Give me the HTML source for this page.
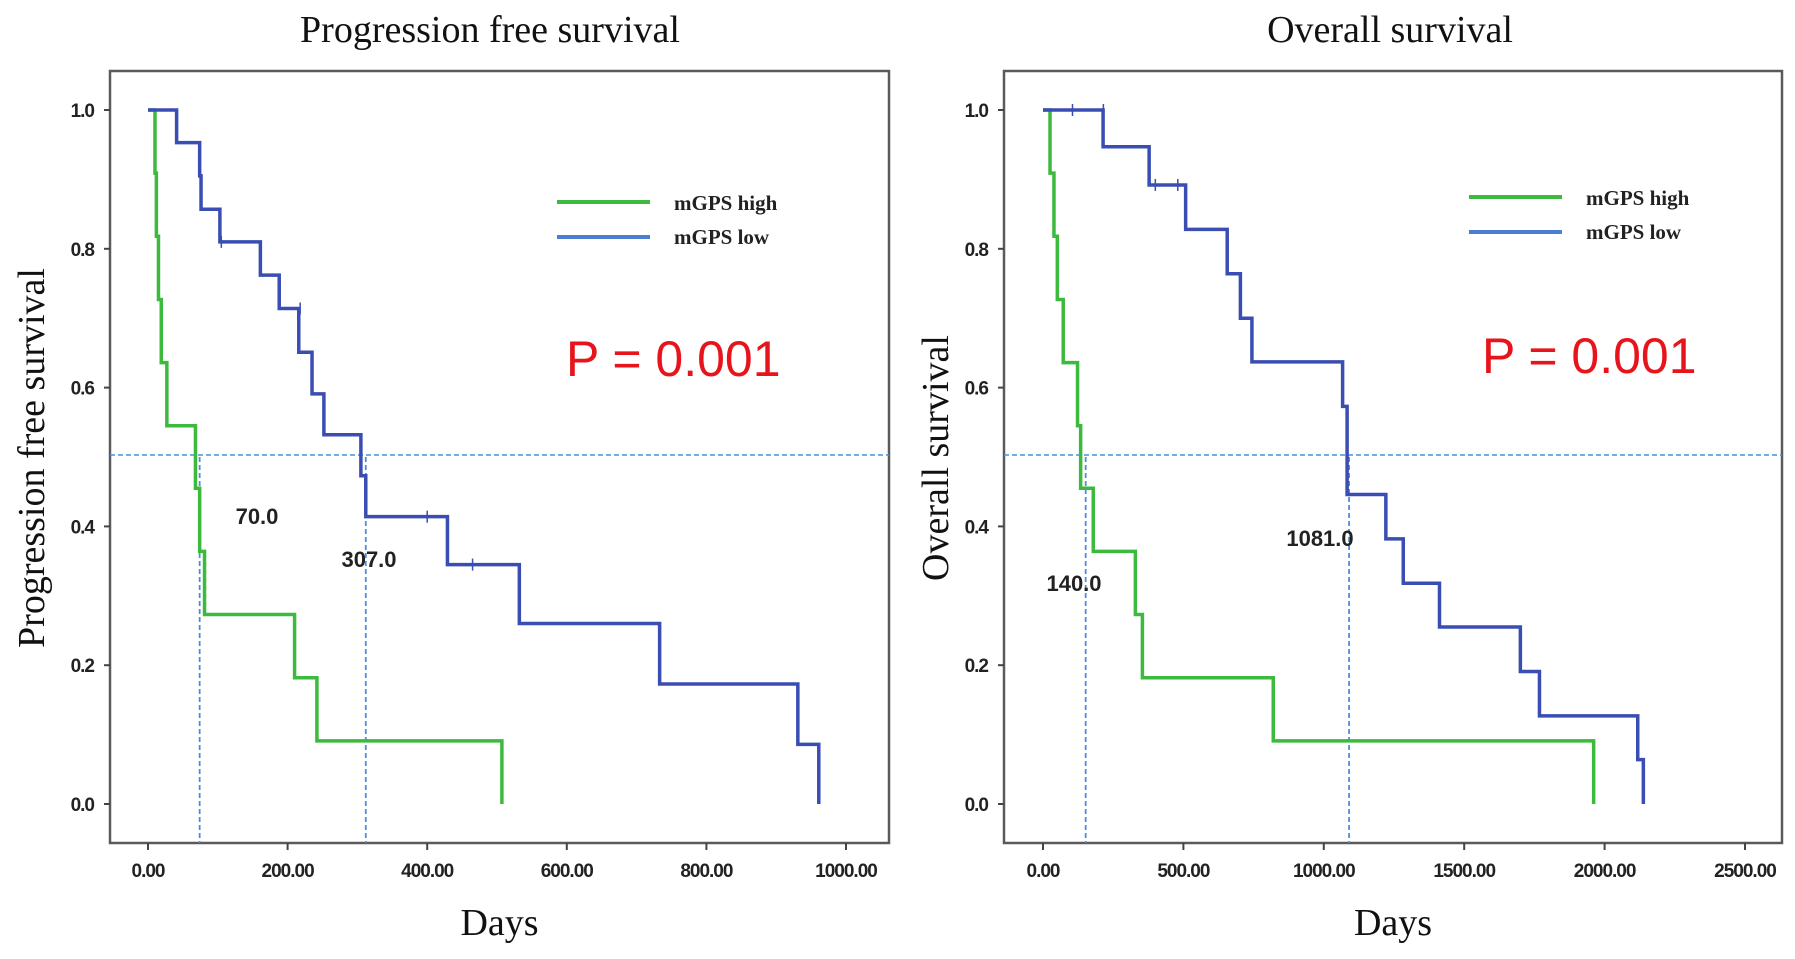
<!DOCTYPE html>
<html><head><meta charset="utf-8"><style>
html,body{margin:0;padding:0;background:#fff;}
svg{display:block;}
.tk{font-family:"Liberation Sans",sans-serif;font-weight:bold;font-size:19px;fill:#222;letter-spacing:-1px;}
.ttl{font-family:"Liberation Serif",serif;font-size:38px;fill:#111;}
.lg{font-family:"Liberation Serif",serif;font-weight:bold;font-size:21px;fill:#222;}
.md{font-family:"Liberation Sans",sans-serif;font-weight:bold;font-size:22px;fill:#222;}
.pv{font-family:"Liberation Sans",sans-serif;font-size:50px;fill:#e8141b;}
</style></head><body>
<svg id="chart" width="1795" height="959" viewBox="0 0 1795 959" xmlns="http://www.w3.org/2000/svg"></svg>
<script>
// ---- Panel 1: Progression free survival ----
const pfsHighDays = [0, 10, 12, 15, 19, 27, 68, 74, 81, 210, 242, 507];
const pfsHighSurv = [1.0, 0.909, 0.818, 0.727, 0.636, 0.545, 0.455, 0.364, 0.273, 0.182, 0.091, 0.0];
const pfsLowDays = [0, 41, 74, 76, 103, 161, 188, 216, 235, 252, 305, 312, 429, 532, 733, 931, 961];
const pfsLowSurv = [1.0, 0.953, 0.905, 0.857, 0.81, 0.762, 0.714, 0.651, 0.591, 0.532, 0.473, 0.414, 0.345, 0.26, 0.173, 0.086, 0.0];
const pfsLowCensorDays = [75, 105, 218, 400, 465];
const pfsLowCensorSurv = [0.905, 0.81, 0.714, 0.414, 0.345];
const pfsMedians = [74, 312];
const pfsMedianLabels = ["70.0", "307.0"];
const pfsXTicks = [0, 200, 400, 600, 800, 1000];
const pfsXTickLabels = ["0.00", "200.00", "400.00", "600.00", "800.00", "1000.00"];
// ---- Panel 2: Overall survival ----
const osHighDays = [0, 25, 39, 51, 72, 123, 134, 179, 329, 354, 820, 1961];
const osHighSurv = [1.0, 0.909, 0.818, 0.727, 0.636, 0.545, 0.455, 0.364, 0.273, 0.182, 0.091, 0.0];
const osLowDays = [0, 214, 378, 508, 656, 703, 744, 1067, 1083, 1221, 1283, 1412, 1700, 1768, 2118, 2138];
const osLowSurv = [1.0, 0.947, 0.892, 0.828, 0.764, 0.70, 0.637, 0.573, 0.446, 0.382, 0.318, 0.255, 0.191, 0.127, 0.064, 0.0];
const osLowCensorDays = [105, 215, 400, 480];
const osLowCensorSurv = [1.0, 1.0, 0.892, 0.892];
const osMedians = [152, 1090];
const osMedianLabels = ["140.0", "1081.0"];
const osXTicks = [0, 500, 1000, 1500, 2000, 2500];
const osXTickLabels = ["0.00", "500.00", "1000.00", "1500.00", "2000.00", "2500.00"];
const yTicks = [0, 0.2, 0.4, 0.6, 0.8, 1.0];
const yTickLabels = ["0.0", "0.2", "0.4", "0.6", "0.8", "1.0"];

const NS = "http://www.w3.org/2000/svg";
const svg = document.getElementById("chart");
function mk(tag, attrs, parent, txt) {
  const e = document.createElementNS(NS, tag);
  for (const k in attrs) e.setAttribute(k, attrs[k]);
  if (txt !== undefined) e.textContent = txt;
  (parent || svg).appendChild(e);
  return e;
}
function stepPath(days, surv, xs, ys) {
  let d = "M" + xs(days[0]) + "," + ys(surv[0]);
  for (let i = 1; i < days.length; i++) {
    d += " H" + xs(days[i]) + " V" + ys(surv[i]);
  }
  return d;
}
function panel(cfg) {
  const g = mk("g", {});
  
  
  const xs = v => cfg.x0 + v * cfg.kx;
  const ys = v => 804 - v * 694;
  const t = mk("text", {x: cfg.titleX, y: 42, "text-anchor": "middle", class: "ttl"}, g, cfg.title);
  
  
  const box = mk("rect", {x: cfg.bx, y: 71, width: cfg.bw, height: 772, fill: "none", stroke: "#5a5a5a", "stroke-width": 2.5}, g);
  
  
  yTicks.forEach((v, i) => {
    mk("line", {x1: cfg.bx - 6, x2: cfg.bx, y1: ys(v), y2: ys(v), stroke: "#444", "stroke-width": 2}, g);
    const l = mk("text", {x: cfg.bx - 16, y: ys(v) + 7, "text-anchor": "end", class: "tk"}, g, yTickLabels[i]);
    
    
  });
  cfg.xt.forEach((v, i) => {
    mk("line", {x1: xs(v), x2: xs(v), y1: 843, y2: 850, stroke: "#444", "stroke-width": 2}, g);
    const l = mk("text", {x: xs(v), y: 877, "text-anchor": "middle", class: "tk"}, g, cfg.xtl[i]);
    
    
  });
  const xl = mk("text", {x: cfg.bx + cfg.bw / 2, y: 935, "text-anchor": "middle", class: "ttl"}, g, "Days");
  
  
  const yl = mk("text", {x: 0, y: 0, "text-anchor": "middle", class: "ttl", transform: "translate(" + cfg.ytX + ",458) rotate(-90)"}, g, cfg.yTitle);
  
  
  const hl = mk("line", {x1: cfg.bx, x2: cfg.bx + cfg.bw, y1: ys(0.5) - 2, y2: ys(0.5) - 2, stroke: "#4a90d9", "stroke-width": 1.6, "stroke-dasharray": "5,3"}, g);
  
  
  cfg.med.forEach((m, i) => {
    const vl = mk("line", {x1: xs(m), x2: xs(m), y1: ys(0.5), y2: 843, stroke: "#4a90d9", "stroke-width": 1.8, "stroke-dasharray": "5,3"}, g);
    
    
    const ml = mk("text", {x: cfg.medLX[i], y: cfg.medLY[i], "text-anchor": "middle", class: "md"}, g, cfg.medL[i]);
    
    
  });
  const hp = mk("path", {d: stepPath(cfg.hd, cfg.hs, xs, ys), fill: "none", stroke: "#3dba3d", "stroke-width": 3.5}, g);
  
  
  const lp = mk("path", {d: stepPath(cfg.ld, cfg.ls, xs, ys), fill: "none", stroke: "#3a4db3", "stroke-width": 3.5}, g);
  
  
  cfg.cd.forEach((c, i) => {
    const cm = mk("line", {x1: xs(c), x2: xs(c), y1: ys(cfg.cs[i]) - 6, y2: ys(cfg.cs[i]) + 6, stroke: "#3a4db3", "stroke-width": 1.5}, g);
    
    
  });
  const lgx = cfg.lgx;
  const l1 = mk("line", {x1: lgx, x2: lgx + 93, y1: cfg.lgy, y2: cfg.lgy, stroke: "#3dba3d", "stroke-width": 4}, g);
  
  
  const t1 = mk("text", {x: lgx + 117, y: cfg.lgy + 8, class: "lg"}, g, "mGPS high");
  
  
  const l2 = mk("line", {x1: lgx, x2: lgx + 93, y1: cfg.lgy + 35, y2: cfg.lgy + 35, stroke: "#4a7fd0", "stroke-width": 4}, g);
  
  
  const t2 = mk("text", {x: lgx + 117, y: cfg.lgy + 42, class: "lg"}, g, "mGPS low");
  
  
  const p = mk("text", {x: cfg.px, y: cfg.py, class: "pv"}, g, "P = 0.001");
  
  
}
panel({name: "pfs-panel", title: "Progression free survival", titleX: 490, bx: 110, bw: 779, x0: 148, kx: 0.698,
  yTitle: "Progression free survival", ytX: 44, xt: pfsXTicks, xtl: pfsXTickLabels,
  hd: pfsHighDays, hs: pfsHighSurv, ld: pfsLowDays, ls: pfsLowSurv, cd: pfsLowCensorDays, cs: pfsLowCensorSurv,
  med: pfsMedians, medL: pfsMedianLabels, medLX: [257, 369], medLY: [524, 567],
  lgx: 557, lgy: 202, px: 566, py: 376});
panel({name: "os-panel", title: "Overall survival", titleX: 1390, bx: 1004, bw: 778, x0: 1043, kx: 0.2808,
  yTitle: "Overall survival", ytX: 948, xt: osXTicks, xtl: osXTickLabels,
  hd: osHighDays, hs: osHighSurv, ld: osLowDays, ls: osLowSurv, cd: osLowCensorDays, cs: osLowCensorSurv,
  med: osMedians, medL: osMedianLabels, medLX: [1074, 1320], medLY: [591, 546],
  lgx: 1469, lgy: 197, px: 1482, py: 373});
</script>
</body></html>
